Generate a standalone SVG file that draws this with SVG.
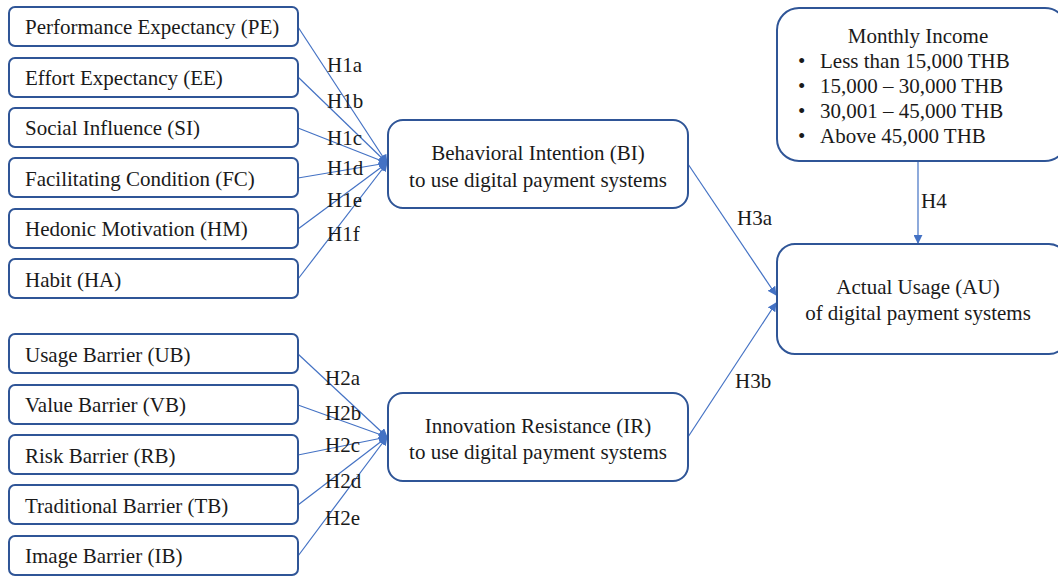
<svg xmlns="http://www.w3.org/2000/svg" width="1058" height="576" viewBox="0 0 1058 576">
<style>
.box{fill:#fff;stroke:#2F5597;stroke-width:2}
.t{font-family:"Liberation Serif","Times New Roman",serif;font-size:21px;fill:#1a1a1a}
.c{text-anchor:middle}
.ln{stroke:#4472C4;stroke-width:1.2;fill:none;marker-end:url(#ah)}
</style>
<defs>
<marker id="ah" viewBox="0 0 10 10" refX="9" refY="5" markerWidth="9" markerHeight="9" markerUnits="userSpaceOnUse" orient="auto">
<path d="M0,0 L10,5 L0,10 z" fill="#4472C4"/>
</marker>
</defs>
<rect width="1058" height="576" fill="#fff"/>
<g id="connectors">
<line class="ln" x1="298" y1="27" x2="387" y2="163"/>
<line class="ln" x1="298" y1="77" x2="387" y2="163"/>
<line class="ln" x1="298" y1="128" x2="387" y2="163"/>
<line class="ln" x1="298" y1="178" x2="387" y2="163"/>
<line class="ln" x1="298" y1="229" x2="387" y2="163"/>
<line class="ln" x1="298" y1="279" x2="387" y2="163"/>
<line class="ln" x1="298" y1="354" x2="387" y2="437"/>
<line class="ln" x1="298" y1="405" x2="387" y2="437"/>
<line class="ln" x1="298" y1="455" x2="387" y2="437"/>
<line class="ln" x1="298" y1="505" x2="387" y2="437"/>
<line class="ln" x1="298" y1="556" x2="387" y2="437"/>
<line class="ln" x1="688" y1="164" x2="776" y2="295"/>
<line class="ln" x1="688" y1="437" x2="776" y2="303"/>
<line class="ln" x1="918" y1="161" x2="918" y2="243"/>
<g class="t">
<text x="327" y="72">H1a</text>
<text x="327" y="108">H1b</text>
<text x="327" y="145">H1c</text>
<text x="327" y="175">H1d</text>
<text x="327" y="207">H1e</text>
<text x="327" y="241">H1f</text>
<text x="325" y="385">H2a</text>
<text x="325" y="420">H2b</text>
<text x="325" y="452">H2c</text>
<text x="325" y="488">H2d</text>
<text x="325" y="525">H2e</text>
<text x="737" y="225">H3a</text>
<text x="735" y="388">H3b</text>
<text x="921" y="208">H4</text>
</g>
</g>
<g id="PE"><rect class="box" x="9" y="7" width="289" height="39" rx="6"/><text class="t" x="25" y="34">Performance Expectancy (PE)</text></g>
<g id="EE"><rect class="box" x="9" y="58" width="289" height="39" rx="6"/><text class="t" x="25" y="85">Effort Expectancy (EE)</text></g>
<g id="SI"><rect class="box" x="9" y="108" width="289" height="39" rx="6"/><text class="t" x="25" y="135">Social Influence (SI)</text></g>
<g id="FC"><rect class="box" x="9" y="158" width="289" height="39" rx="6"/><text class="t" x="25" y="186">Facilitating Condition (FC)</text></g>
<g id="HM"><rect class="box" x="9" y="209" width="289" height="39" rx="6"/><text class="t" x="25" y="236">Hedonic Motivation (HM)</text></g>
<g id="HA"><rect class="box" x="9" y="259" width="289" height="39" rx="6"/><text class="t" x="25" y="287">Habit (HA)</text></g>
<g id="UB"><rect class="box" x="9" y="334" width="289" height="39" rx="6"/><text class="t" x="25" y="362">Usage Barrier (UB)</text></g>
<g id="VB"><rect class="box" x="9" y="385" width="289" height="39" rx="6"/><text class="t" x="25" y="412">Value Barrier (VB)</text></g>
<g id="RB"><rect class="box" x="9" y="435" width="289" height="39" rx="6"/><text class="t" x="25" y="463">Risk Barrier (RB)</text></g>
<g id="TB"><rect class="box" x="9" y="485" width="289" height="39" rx="6"/><text class="t" x="25" y="513">Traditional Barrier (TB)</text></g>
<g id="IB"><rect class="box" x="9" y="536" width="289" height="39" rx="6"/><text class="t" x="25" y="563">Image Barrier (IB)</text></g>
<g id="BI"><rect class="box" x="388" y="120" width="300" height="88" rx="15"/><text class="t c" x="538" y="160">Behavioral Intention (BI)</text><text class="t c" x="538" y="187">to use digital payment systems</text></g>
<g id="IR"><rect class="box" x="388" y="393" width="300" height="88" rx="15"/><text class="t c" x="538" y="433">Innovation Resistance (IR)</text><text class="t c" x="538" y="459">to use digital payment systems</text></g>
<g id="AU"><rect class="box" x="777" y="244" width="290" height="110" rx="18"/><text class="t c" x="918" y="294">Actual Usage (AU)</text><text class="t c" x="918" y="320">of digital payment systems</text></g>
<g id="MI"><rect class="box" x="777" y="8" width="290" height="153" rx="22"/>
<text class="t c" x="918" y="43">Monthly Income</text>
<g class="t"><text x="798" y="68">•</text><text x="820" y="68">Less than 15,000 THB</text>
<text x="798" y="93">•</text><text x="820" y="93">15,000 – 30,000 THB</text>
<text x="798" y="118">•</text><text x="820" y="118">30,001 – 45,000 THB</text>
<text x="798" y="143">•</text><text x="820" y="143">Above 45,000 THB</text></g></g>
</svg>
